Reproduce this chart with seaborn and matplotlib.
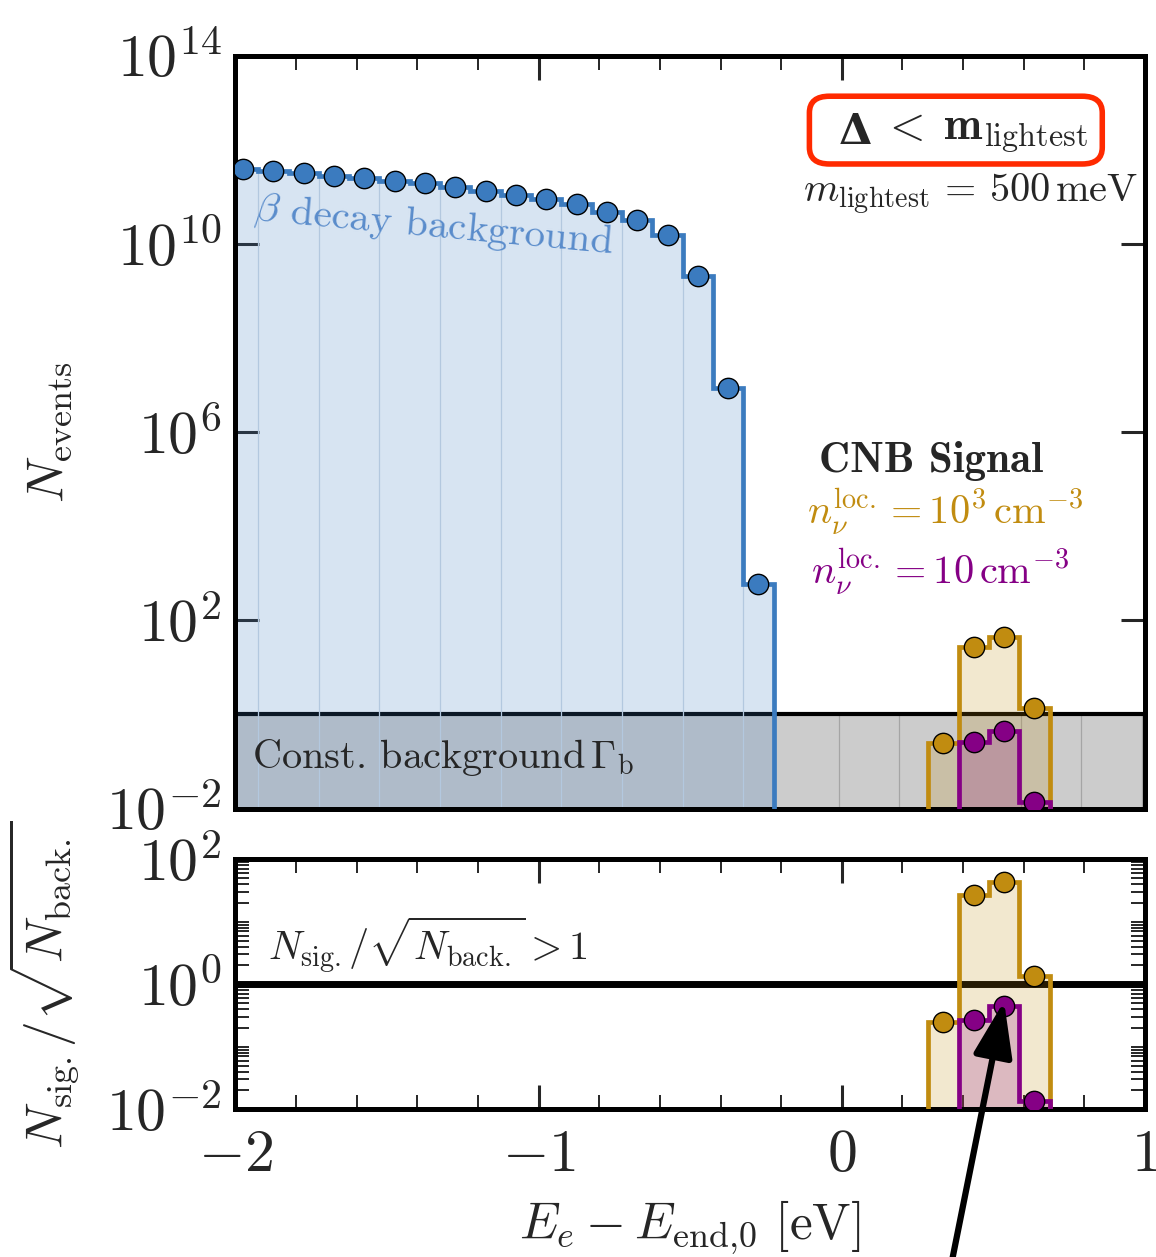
import numpy as np
import matplotlib
matplotlib.use("Agg")
import matplotlib.pyplot as plt
from matplotlib.patches import FancyBboxPatch
from matplotlib.ticker import (FixedLocator, FuncFormatter, LogLocator, MultipleLocator,
                               NullFormatter, NullLocator)
import seaborn as sns

# beta decay background, events per 0.1 eV bin (bin centres in eV)
beta_centers = [-1.975, -1.875, -1.775, -1.675, -1.575, -1.475, -1.375, -1.275, -1.175,
                -1.075, -0.975, -0.875, -0.775, -0.675, -0.575, -0.475, -0.375, -0.275]
beta_counts = [3.9e11, 3.55e11, 3.25e11, 2.8e11, 2.5e11, 2.2e11, 1.95e11, 1.65e11, 1.3e11,
               1.07e11, 9.1e10, 7.1e10, 4.7e10, 3.2e10, 1.55e10, 2.1e9, 8.7e6, 5.9e2]

# CNB signal, events per bin
cnb_centers = [0.335, 0.435, 0.535, 0.635]
cnb_high = [0.245, 26.6, 43.7, 1.37]       # n_nu = 10^3 cm^-3
cnb_low = [0.0025, 0.265, 0.447, 0.0137]   # n_nu = 10 cm^-3

const_bkg = 1.0   # constant background Gamma_b per bin
bin_width = 0.1

BLUE = "#3b7bbf"
GOLD = "#c18c10"
PURPLE = "#850085"

sns.set_style("ticks")
plt.rcParams["mathtext.fontset"] = "cm"
plt.rcParams["font.family"] = ["cmr10", "DejaVu Serif"]
plt.rcParams["axes.formatter.use_mathtext"] = True
# bold greek for the boxed label
plt.rcParams["mathtext.bf"] = "DejaVu Serif:bold"


def edges_of(centers):
    c = np.asarray(centers)
    return np.append(c - bin_width / 2, c[-1] + bin_width / 2)


def step_hist(ax, centers, vals, color):
    edges = edges_of(centers)
    ax.stairs(vals, edges, baseline=1e-8, fill=True, color=color, alpha=0.2, lw=0, zorder=2)
    ax.stairs(vals, edges, baseline=1e-8, color=color, lw=3.4, zorder=3)
    sns.scatterplot(x=centers, y=vals, ax=ax, color=color, edgecolor="k", s=215,
                    linewidth=1.0, zorder=4, legend=False)


def style_axis(ax):
    for sp in ax.spines.values():
        sp.set_linewidth(3.6)
        sp.set_color("k")
    ax.set_xlim(-2, 1)
    ax.xaxis.set_major_locator(MultipleLocator(1))
    ax.xaxis.set_minor_locator(MultipleLocator(0.2))
    ax.tick_params(which="both", direction="in", top=True, right=True, labelsize=43, pad=10)
    ax.tick_params(which="major", length=17, width=2.2)
    ax.tick_params(which="minor", length=10, width=1.4)
    ax.yaxis.set_major_formatter(FuncFormatter(lambda v, p: r"$10^{%d}$" % round(np.log10(v))))
    ax.yaxis.set_minor_formatter(NullFormatter())
    ax.xaxis.set_major_formatter(FuncFormatter(lambda v, p: r"$%g$" % v))


fig = plt.figure(figsize=(11.56, 12.57), dpi=100)
ax = fig.add_axes([0.2037, 0.3568, 0.7868, 0.5990])
ax_r = fig.add_axes([0.2037, 0.1175, 0.7868, 0.1989])

# ---- top panel: event counts ----
ax.set_yscale("log")
ax.set_ylim(1e-2, 1e14)
ax.fill_between([-2.1, 1.1], 1e-8, const_bkg, color="#cccccc", lw=0, zorder=1)
ax.axhline(const_bkg, color="k", lw=3.0, zorder=1.5)
band_lines = [x for x in np.arange(-2.01, 1.0, 0.2) if x > edges_of(beta_centers)[-1] + 0.02]
ax.vlines(band_lines, 1e-8, const_bkg, color="#a5a5a5", lw=0.9, zorder=1.2)

beta_edges = edges_of(beta_centers)
sep_x = beta_edges[1:-1:2]
sep_top = [min(beta_counts[i - 1], beta_counts[i]) for i in range(1, len(beta_counts), 2)]
ax.vlines(sep_x, 1e-8, sep_top, color="#b3c8df", lw=0.9, zorder=2.5)

step_hist(ax, beta_centers, beta_counts, BLUE)
step_hist(ax, cnb_centers, cnb_high, GOLD)
step_hist(ax, cnb_centers, cnb_low, PURPLE)

style_axis(ax)
ax.yaxis.set_major_locator(FixedLocator([1e-2, 1e2, 1e6, 1e10, 1e14]))
ax.yaxis.set_minor_locator(NullLocator())
ax.tick_params(labelbottom=False)
ax.set_ylabel(r"$N_{\rm events}$", fontsize=37)
ax.yaxis.set_label_coords(-0.176, 0.5)

ax.text(0.02, 0.795, r"$\beta$ decay background", transform=ax.transAxes,
        fontsize=29.5, color="#5a8ccb", rotation=-5.3, rotation_mode="anchor",
        ha="left", va="center", zorder=5)
ax.text(0.018, 0.068, r"Const. background$\,\Gamma_{\rm b}$", transform=ax.transAxes,
        fontsize=29, ha="left", va="center", zorder=5)

# boxed regime label
ax.add_patch(FancyBboxPatch((0.631, 0.856), 0.322, 0.090, transform=ax.transAxes,
                            boxstyle="round,pad=0,rounding_size=0.022",
                            fc="white", ec="#ff2a00", lw=4, zorder=6))
ax.text(0.700, 0.897, r"$\mathbf{\Delta}$", transform=ax.transAxes, math_fontfamily="custom",
        fontsize=31, ha="right", va="center", zorder=7)
ax.text(0.710, 0.897, r"$<\;\mathbf{m}_{\rm lightest}$", transform=ax.transAxes,
        fontsize=33, ha="left", va="center", zorder=7, math_fontfamily="cm")
ax.text(0.808, 0.815, r"$m_{\rm lightest}\,=\,500\,\mathrm{meV}$", transform=ax.transAxes,
        fontsize=29, ha="center", va="center", zorder=5)
ax.text(0.765, 0.461, "CNB Signal", transform=ax.transAxes, fontfamily="cmb10",
        fontsize=31, ha="center", va="center", zorder=5)
ax.text(0.780, 0.394, r"$n_\nu^{\rm loc.}=10^3\,\mathrm{cm}^{-3}$", transform=ax.transAxes,
        fontsize=29, color=GOLD, ha="center", va="center", zorder=5)
ax.text(0.775, 0.314, r"$n_\nu^{\rm loc.}=10\,\mathrm{cm}^{-3}$", transform=ax.transAxes,
        fontsize=29, color=PURPLE, ha="center", va="center", zorder=5)

# ---- bottom panel: significance ----
n_back = const_bkg  # beta background vanishes above the endpoint
ratio_high = np.array(cnb_high) / np.sqrt(n_back)
ratio_low = np.array(cnb_low) / np.sqrt(n_back)

ax_r.set_yscale("log")
ax_r.set_ylim(1e-2, 1e2)
ax_r.axhline(1.0, color="k", lw=5, zorder=1.5)
step_hist(ax_r, cnb_centers, ratio_high, GOLD)
step_hist(ax_r, cnb_centers, ratio_low, PURPLE)

style_axis(ax_r)
ax_r.yaxis.set_major_locator(FixedLocator([1e-2, 1e0, 1e2]))
ax_r.yaxis.set_minor_locator(LogLocator(base=10, subs=np.arange(1, 10), numticks=20))
ax_r.tick_params(axis="x", pad=14)
ax_r.set_ylabel(r"$N_{\rm sig.}/\sqrt{N_{\rm back.}}$", fontsize=37)
ax_r.yaxis.set_label_coords(-0.17, 0.5)
ax_r.set_xlabel(r"$E_e - E_{\rm end{,}0}\ [\mathrm{eV}]$", fontsize=37)
ax_r.xaxis.set_label_coords(0.5, -0.36)
ax_r.text(0.036, 0.657, r"$N_{\rm sig.}/\sqrt{N_{\rm back.}}>1$", transform=ax_r.transAxes,
          fontsize=29, ha="left", va="center", zorder=5)

ax_r.annotate("", xy=(cnb_centers[2], ratio_low[2] * 1.2), xycoords="data",
              xytext=(0.822, -0.01), textcoords="figure fraction",
              arrowprops=dict(arrowstyle="-|>,head_length=1.7,head_width=0.6",
                              mutation_scale=20, lw=4.5, color="k", shrinkA=0, shrinkB=0),
              annotation_clip=False, zorder=10)

fig.savefig("out.png", dpi=100)
